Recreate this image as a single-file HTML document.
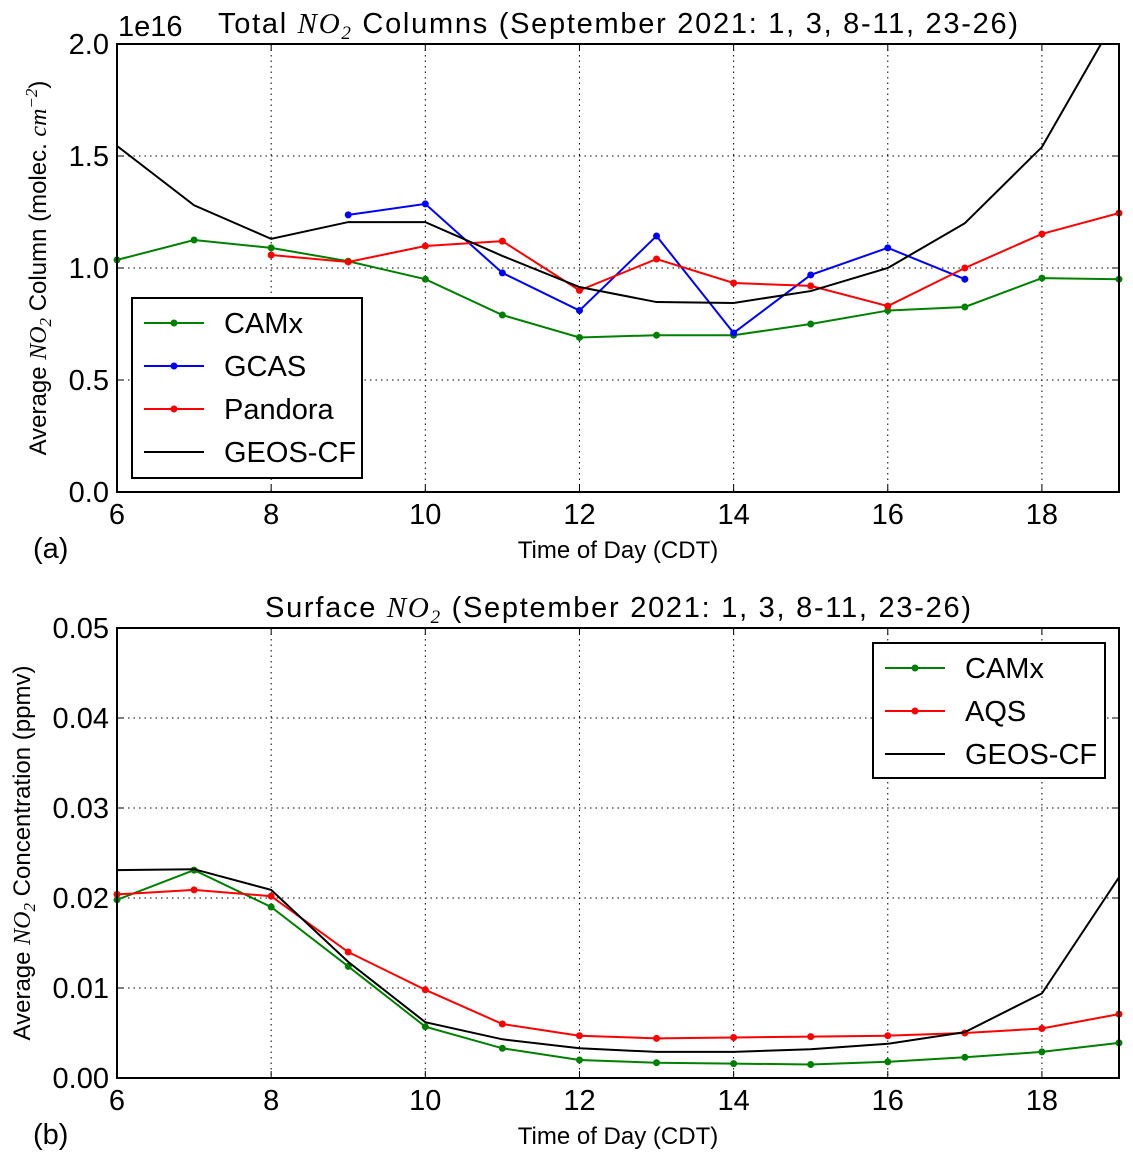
<!DOCTYPE html>
<html><head><meta charset="utf-8"><style>
body{margin:0;background:#fff;}
svg text{font-family:"Liberation Sans",sans-serif;fill:#000;}
.m{font-family:"Liberation Serif",serif;font-style:italic;}
</style></head><body>
<svg id="c" width="1133" height="1160" xmlns="http://www.w3.org/2000/svg"></svg>
<script>
const hours=[6,7,8,9,10,11,12,13,14,15,16,17,18,19];
const xTicks=[6,8,10,12,14,16,18];
const topTicks=["0.0","0.5","1.0","1.5","2.0"];
const botTicks=["0.00","0.01","0.02","0.03","0.04","0.05"];
const camxCol=[1.036,1.125,1.09,1.03,0.95,0.79,0.69,0.70,0.70,0.75,0.81,0.826,0.955,0.95];
const gcasHours=[9,10,11,12,13,14,15,16,17];
const gcasCol=[1.237,1.286,0.978,0.81,1.143,0.71,0.969,1.09,0.95];
const pandoraHours=[8,9,10,11,12,13,14,15,16,17,18,19];
const pandoraCol=[1.058,1.027,1.098,1.12,0.90,1.04,0.933,0.92,0.83,1.0,1.152,1.245];
const geosCol=[1.545,1.28,1.13,1.205,1.205,1.054,0.915,0.848,0.844,0.897,1.0,1.20,1.54,2.14];
const camxSurf=[0.0198,0.0231,0.019,0.0124,0.0057,0.0033,0.002,0.0017,0.0016,0.0015,0.0018,0.0023,0.0029,0.0039];
const aqsSurf=[0.0204,0.0209,0.0202,0.014,0.0098,0.006,0.0047,0.0044,0.0045,0.0046,0.0047,0.005,0.0055,0.0071];
const geosSurf=[0.0231,0.0232,0.0209,0.0129,0.0062,0.0043,0.0033,0.0029,0.0029,0.0032,0.0038,0.0051,0.0094,0.0223];

const NS="http://www.w3.org/2000/svg";
const svg=document.getElementById('c');
function el(t,a,p){const e=document.createElementNS(NS,t);for(const k in a)e.setAttribute(k,a[k]);(p||svg).appendChild(e);return e;}
const X0=117,X1=1119;
const sx=h=>X0+(h-6)*(X1-X0)/13;

function panel(key,yTop,yBot,ymax,ticks,tickVals,series,title,ylabel,ylx,letter,legend){
  const sy=v=>yBot-v/ymax*(yBot-yTop);
  const g=el('g',{});
  
  
  const cid='clip'+key;
  const cp=el('clipPath',{id:cid},g);el('rect',{x:X0,y:yTop,width:X1-X0,height:yBot-yTop},cp);
  xTicks.forEach(h=>{const l=el('line',{x1:sx(h),x2:sx(h),y1:yTop,y2:yBot,stroke:'#000','stroke-width':1,'stroke-dasharray':'1.5,4'},g);
    
    const t=el('text',{x:sx(h),y:yBot+32,'font-size':29,'text-anchor':'middle'},g);t.textContent=h;
    
    el('line',{x1:sx(h),x2:sx(h),y1:yBot,y2:yBot-7,stroke:'#000'},g);el('line',{x1:sx(h),x2:sx(h),y1:yTop,y2:yTop+7,stroke:'#000'},g);});
  tickVals.forEach((v,i)=>{const y=sy(v);
    if(i>0&&i<tickVals.length-1){const l=el('line',{x1:X0,x2:X1,y1:y,y2:y,stroke:'#000','stroke-width':1,'stroke-dasharray':'1.5,4'},g);
      }
    const t=el('text',{x:X0-8,y:y+10,'font-size':29,'text-anchor':'end'},g);t.textContent=ticks[i];
    
    el('line',{x1:X0,x2:X0+7,y1:y,y2:y,stroke:'#000'},g);el('line',{x1:X1,x2:X1-7,y1:y,y2:y,stroke:'#000'},g);});
  series.forEach(s=>{
    const pts=s.xs.map((h,i)=>sx(h)+','+sy(s.ys[i])).join(' ');
    const pl=el('polyline',{points:pts,fill:'none',stroke:s.c,'stroke-width':2,'clip-path':'url(#'+cid+')'},g);
    
    if(s.dot)s.xs.forEach((h,i)=>{const c=el('circle',{cx:sx(h),cy:sy(s.ys[i]),r:3.5,fill:s.c},g);
      });
  });
  const fr=el('rect',{x:X0,y:yTop,width:X1-X0,height:yBot-yTop,fill:'none',stroke:'#000','stroke-width':2},g);
  
  const tt=el('text',{x:618,y:yTop-11,'font-size':29,'text-anchor':'middle','textLength':legend.tl,'lengthAdjust':'spacing'},g);tt.innerHTML=title;
  
  const xl=el('text',{x:618,y:yBot+66,'font-size':24,'text-anchor':'middle'},g);xl.textContent='Time of Day (CDT)';
  
  const yl=el('text',{x:0,y:0,'font-size':24,'text-anchor':'middle',transform:'translate('+ylx+','+((yTop+yBot)/2)+') rotate(-90)'},g);yl.innerHTML=ylabel;
  
  const lt=el('text',{x:33,y:yBot+66,'font-size':29},g);lt.textContent=letter;
  
  const lg=el('g',{},g);
  el('rect',{x:legend.x,y:legend.y,width:legend.w,height:legend.h,fill:'#fff',stroke:'#000','stroke-width':2},lg);
  legend.items.forEach((it,i)=>{const y=legend.y+25+i*43;
    const e=el('g',{},lg);
    el('line',{x1:legend.x+12,x2:legend.x+72,y1:y,y2:y,stroke:it.c,'stroke-width':2},e);
    if(it.dot)el('circle',{cx:legend.x+42,cy:y,r:3.5,fill:it.c},e);
    const t=el('text',{x:legend.x+92,y:y+10,'font-size':29},e);t.textContent=it.n;});
}
panel('top',44,492,2.0,topTicks,[0,0.5,1.0,1.5,2.0],[
 {n:'camx',xs:hours,ys:camxCol,c:'#008000',dot:1},
 {n:'gcas',xs:gcasHours,ys:gcasCol,c:'#0000ff',dot:1},
 {n:'pandora',xs:pandoraHours,ys:pandoraCol,c:'#ff0000',dot:1},
 {n:'geos-cf',xs:hours,ys:geosCol,c:'#000',dot:0}],
 'Total <tspan class="m">NO</tspan><tspan class="m" font-size="19" dy="6">2</tspan><tspan dy="-6"> Columns (September 2021: 1, 3, 8-11, 23-26)</tspan>',
 'Average <tspan class="m">NO</tspan><tspan class="m" font-size="17" dy="5">2</tspan><tspan dy="-5"> Column (molec. </tspan><tspan class="m">cm</tspan><tspan class="m" font-size="17" dy="-9">−2</tspan><tspan dy="9">)</tspan>',
 46,'(a)',{tl:800,x:132,y:298,w:230,h:180,items:[{n:'CAMx',c:'#008000',dot:1},{n:'GCAS',c:'#0000ff',dot:1},{n:'Pandora',c:'#ff0000',dot:1},{n:'GEOS-CF',c:'#000',dot:0}]});
const e16=el('text',{x:118,y:36,'font-size':29});e16.textContent='1e16';

panel('bottom',628,1078,0.05,botTicks,[0,0.01,0.02,0.03,0.04,0.05],[
 {n:'camx',xs:hours,ys:camxSurf,c:'#008000',dot:1},
 {n:'aqs',xs:hours,ys:aqsSurf,c:'#ff0000',dot:1},
 {n:'geos-cf',xs:hours,ys:geosSurf,c:'#000',dot:0}],
 'Surface <tspan class="m">NO</tspan><tspan class="m" font-size="19" dy="6">2</tspan><tspan dy="-6"> (September 2021: 1, 3, 8-11, 23-26)</tspan>',
 'Average <tspan class="m">NO</tspan><tspan class="m" font-size="17" dy="5">2</tspan><tspan dy="-5"> Concentration (ppmv)</tspan>',
 30,'(b)',{tl:706,x:873,y:643,w:232,h:135,items:[{n:'CAMx',c:'#008000',dot:1},{n:'AQS',c:'#ff0000',dot:1},{n:'GEOS-CF',c:'#000',dot:0}]});
</script></body></html>
